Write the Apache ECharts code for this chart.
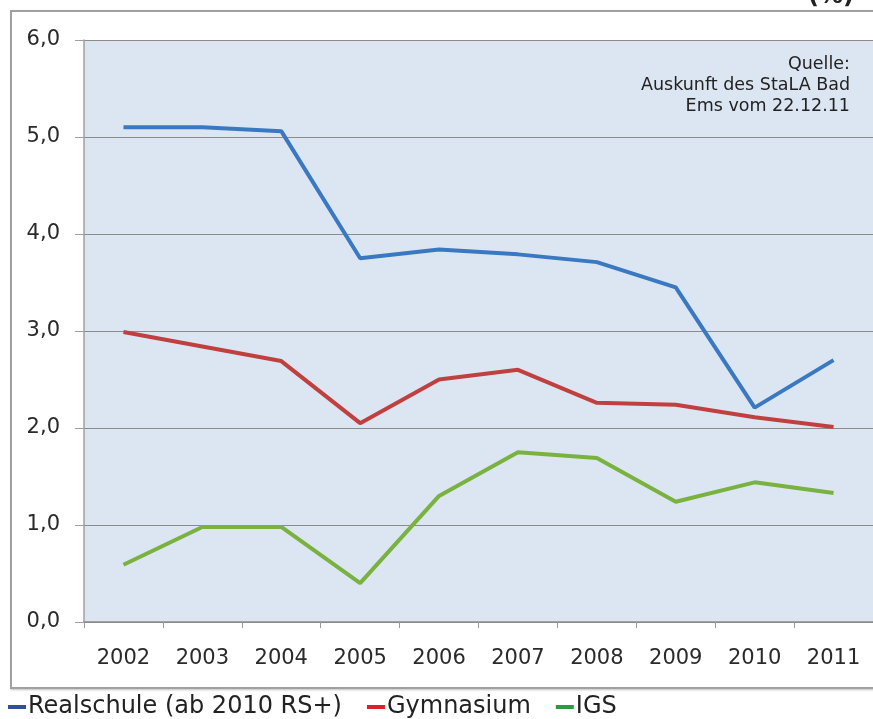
<!DOCTYPE html>
<html>
<head>
<meta charset="utf-8">
<script src="https://cdn.jsdelivr.net/npm/echarts@6/dist/echarts.min.js"></script>
<style>
html,body{margin:0;padding:0;background:#fff;overflow:hidden;width:873px;height:719px;}
#frame{position:absolute;left:10px;top:10px;width:1000px;height:675px;border:2px solid #a0a0a0;box-shadow:1px 1px 2px rgba(0,0,0,0.25);background:#fff;}
#chart{position:absolute;left:0;top:0;width:873px;height:719px;}
</style>
</head>
<body>
<div id="frame"></div>
<div id="chart"></div>
<script>
const years = ['2002','2003','2004','2005','2006','2007','2008','2009','2010','2011'];
const realschule = [5.10, 5.10, 5.06, 3.75, 3.84, 3.79, 3.71, 3.45, 2.21, 2.70];
const gymnasium  = [2.99, 2.84, 2.69, 2.05, 2.50, 2.60, 2.26, 2.24, 2.11, 2.01];
const igs        = [0.59, 0.98, 0.98, 0.40, 1.30, 1.75, 1.69, 1.24, 1.44, 1.33];
const seriesNames = ['Realschule (ab 2010 RS+)', 'Gymnasium', 'IGS'];
const yTicks = [0, 1, 2, 3, 4, 5, 6];
const sourceLines = ['Quelle:', 'Auskunft des StaLA Bad', 'Ems vom 22.12.11'];

const chart = echarts.init(document.getElementById('chart'), null, {renderer: 'canvas'});
const textFont = '"DejaVu Sans", sans-serif';
const sourceText = sourceLines.map((t, i) => ({
  type: 'text', right: 23, top: 55 + i * 21, z: 10,
  style: {text: t, fontFamily: textFont, fontSize: 17.5, fill: '#222', align: 'right'}
}));
chart.setOption({
  backgroundColor: 'transparent',
  animation: false,
  grid: {left: 84, top: 40, width: 793, height: 582, show: true, backgroundColor: '#dce6f2', borderWidth: 0},
  xAxis: {
    type: 'category', data: years, boundaryGap: true,
    axisLine: {lineStyle: {color: '#8a8a8a', width: 1.5}},
    axisTick: {show: true, length: 6, lineStyle: {color: '#9a9a9a'}},
    axisLabel: {margin: 26, fontFamily: textFont, fontSize: 21, color: '#2a2a2a'}
  },
  yAxis: {
    type: 'value', min: yTicks[0], max: yTicks[yTicks.length-1], interval: 1,
    axisLine: {show: true, lineStyle: {color: '#a0a0a0', width: 1.5}},
    axisTick: {show: true, length: 9, lineStyle: {color: '#a0a0a0'}},
    splitLine: {lineStyle: {color: '#8c8c8c', width: 1.2}},
    axisLabel: {margin: 24, fontFamily: textFont, fontSize: 21, color: '#2a2a2a',
      formatter: v => v.toFixed(1).replace('.', ',')}
  },
  legend: {
    left: 8, top: 695, padding: 0, itemGap: 25, itemWidth: 18, itemHeight: 4, icon: 'rect',
    textStyle: {fontFamily: textFont, fontSize: 24, color: '#222', padding: [0,0,0,-3]},
    data: [
      {name: seriesNames[0], itemStyle: {color: '#2f4fa0'}},
      {name: seriesNames[1], itemStyle: {color: '#e02028'}},
      {name: seriesNames[2], itemStyle: {color: '#2e9a3c'}}
    ]
  },
  graphic: sourceText.concat([
    {type: 'text', left: 808, top: -15, z: 10,
      style: {text: '(%)', fontFamily: textFont, fontWeight: 'bold', fontSize: 24, fill: '#222'}}
  ]),
  series: [
    {name: seriesNames[0], type: 'line', data: realschule, symbol: 'none', lineStyle: {color: '#3b78c2', width: 4}, itemStyle: {color: '#3b78c2'}},
    {name: seriesNames[1], type: 'line', data: gymnasium, symbol: 'none', lineStyle: {color: '#c0403f', width: 4}, itemStyle: {color: '#c0403f'}},
    {name: seriesNames[2], type: 'line', data: igs, symbol: 'none', lineStyle: {color: '#79b23e', width: 4}, itemStyle: {color: '#79b23e'}}
  ]
});
</script>
</body>
</html>
